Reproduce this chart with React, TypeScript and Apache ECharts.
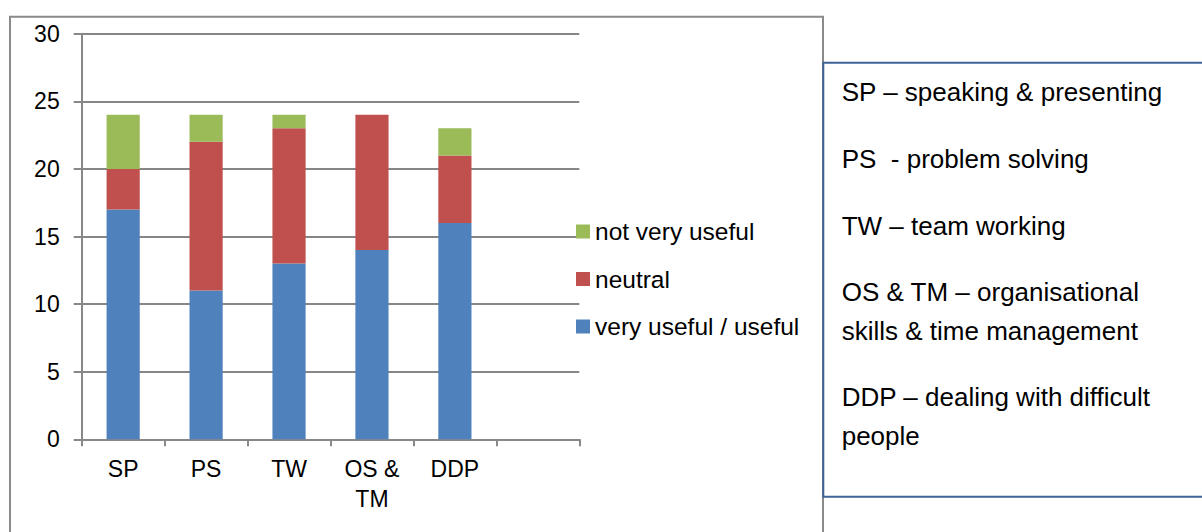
import React, { useEffect, useRef } from "react";
import * as echarts from "echarts";

const categories = ["SP", "PS", "TW", "OS &\nTM", "DDP", ""];
const veryUseful = [17, 11, 13, 14, 16, null];
const neutral = [3, 11, 10, 10, 5, null];
const notVeryUseful = [4, 2, 1, 0, 2, null];
const yTicks = { min: 0, max: 30, interval: 5 };
const seriesNames = ["very useful / useful", "neutral", "not very useful"];
const keyLines = [
  "SP \u2013 speaking & presenting",
  "PS  - problem solving",
  "TW \u2013 team working",
  "OS & TM \u2013 organisational",
  "skills & time management",
  "DDP \u2013 dealing with difficult",
  "people",
];
const keyLineY = [92, 159, 226, 292, 331, 397, 436];

const FONT = "'Liberation Sans', Arial, sans-serif";

export default function App() {
  const ref = useRef<HTMLDivElement>(null);
  useEffect(() => {
    if (!ref.current) return;
    const chart = echarts.init(ref.current, null, { renderer: "svg" });
    const colors = ["#4F81BD", "#C0504D", "#9BBB59"];
    const values = [veryUseful, neutral, notVeryUseful];
    chart.setOption({
      animation: false,
      textStyle: { fontFamily: FONT },
      grid: { left: 81.7, right: 622.7, top: 33.7, bottom: 92.7, containLabel: false },
      legend: {
        orient: "vertical",
        left: 576,
        top: 219,
        padding: 0,
        itemWidth: 14,
        itemHeight: 14,
        itemGap: 22.5,
        icon: "rect",
        data: [seriesNames[2], seriesNames[1], seriesNames[0]],
        textStyle: { fontSize: 24.5, lineHeight: 24.5, color: "#000", fontFamily: FONT },
      },
      xAxis: {
        type: "category",
        data: categories,
        boundaryGap: true,
        axisLine: { show: true, lineStyle: { color: "#888", width: 2 } },
        axisTick: { show: true, length: 7, inside: false, lineStyle: { color: "#888", width: 2 } },
        axisLabel: {
          interval: 0,
          margin: 15,
          fontSize: 23,
          lineHeight: 30,
          color: "#000",
          fontFamily: FONT,
        },
      },
      yAxis: {
        type: "value",
        min: yTicks.min,
        max: yTicks.max,
        interval: yTicks.interval,
        axisLine: { show: true, lineStyle: { color: "#888", width: 2 } },
        axisTick: { show: true, length: 8, lineStyle: { color: "#888", width: 2 } },
        splitLine: { show: true, lineStyle: { color: "#868686", width: 2 } },
        axisLabel: { margin: 22, fontSize: 23, color: "#000", fontFamily: FONT },
      },
      series: seriesNames.map((name, i) => ({
        name,
        type: "bar",
        stack: "total",
        barWidth: "40%",
        data: values[i],
        itemStyle: { color: colors[i] },
      })),
      graphic: [
        {
          type: "rect",
          shape: { x: 10, y: 16.7, width: 813, height: 600 },
          style: { fill: "none", stroke: "#8a8a8a", lineWidth: 2 },
          z: -10,
        },
        {
          type: "rect",
          shape: { x: 823.3, y: 62.7, width: 400, height: 434 },
          style: { fill: "#fff", stroke: "#3F6398", lineWidth: 2 },
          z: 10,
        },
        ...keyLines.map((t, i) => ({
          type: "text",
          x: 841.7,
          y: keyLineY[i],
          z: 11,
          style: {
            text: t,
            fontSize: 26,
            fontFamily: FONT,
            fill: "#000",
            textVerticalAlign: "middle",
            verticalAlign: "middle",
          },
        })),
      ],
    });
    return () => chart.dispose();
  }, []);
  return (
    <div
      ref={ref}
      style={{ position: "absolute", left: 0, top: 0, width: 1202, height: 532, background: "#fff" }}
    />
  );
}
